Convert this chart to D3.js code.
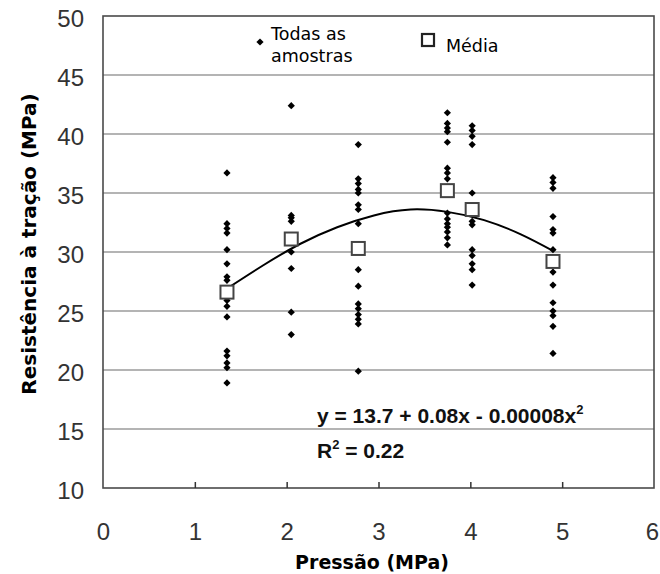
<!DOCTYPE html>
<html>
<head>
<meta charset="utf-8">
<script src="https://cdn.jsdelivr.net/npm/d3@7"></script>
<style>
  body { margin: 0; background: #fff; }
</style>
</head>
<body>
<div class="canvas"></div>
<script>
// chart data
//---------------------------
const pressures = [1.35, 2.05, 2.78, 3.75, 4.02, 4.90];   // MPa, one column per pressure

const samples = [
    [36.7, 32.4, 32.0, 31.6, 30.2, 29.0, 27.9, 27.6, 25.9, 25.4, 24.5, 21.6, 21.2, 20.6, 20.2, 18.9],
    [42.4, 33.1, 32.9, 32.6, 30.8, 30.0, 28.6, 24.9, 23.0],
    [39.1, 36.2, 35.8, 35.3, 35.0, 34.0, 33.6, 32.4, 28.5, 27.1, 25.6, 25.2, 24.7, 24.3, 23.9, 19.9],
    [41.8, 40.9, 40.5, 40.2, 39.3, 37.1, 36.7, 36.2, 33.3, 32.8, 32.4, 32.1, 31.7, 31.2, 30.6],
    [40.7, 40.3, 39.8, 39.1, 35.0, 32.6, 32.3, 30.2, 29.7, 29.0, 28.5, 27.2],
    [36.3, 35.9, 35.4, 33.0, 31.9, 31.6, 30.2, 28.3, 27.2, 25.7, 25.0, 24.6, 23.7, 21.4]
];

const means = [26.6, 31.1, 30.3, 35.2, 33.6, 29.2];

// fitted trend line, read as points along the drawn curve
const trendX = [1.35, 1.75, 2.15, 2.55, 2.95, 3.35, 3.75, 4.15, 4.55, 4.90];
const trendY = [26.9, 28.9, 30.7, 32.1, 33.1, 33.6, 33.4, 32.7, 31.5, 30.1];

const xTicks = [0, 1, 2, 3, 4, 5, 6];
const yTicks = [10, 15, 20, 25, 30, 35, 40, 45, 50];
//---------------------------

const width = 660, height = 574;
const margin = { top: 16, right: 6, bottom: 86, left: 103 };
const graphWidth = width - margin.left - margin.right;
const graphHeight = height - margin.top - margin.bottom;

const sansFont = '"Liberation Sans", Arial, sans-serif';
const wideFont = '"DejaVu Sans", Verdana, sans-serif';

const svg = d3.select('.canvas').append('svg')
    .attr('width', width)
    .attr('height', height);

const graph = svg.append('g')
    .attr('transform', `translate(${margin.left}, ${margin.top})`);

const x = d3.scaleLinear().domain([0, 6]).range([0, graphWidth]);
const y = d3.scaleLinear().domain([10, 50]).range([graphHeight, 0]);

// horizontal gridlines
graph.append('g')
    .selectAll('line')
    .data(yTicks.filter(t => t > 10 && t < 50))
    .enter().append('line')
    .attr('x1', 0).attr('x2', graphWidth)
    .attr('y1', d => y(d)).attr('y2', d => y(d))
    .attr('stroke', '#b4b4b4')
    .attr('stroke-width', 2);

// frame
graph.append('rect')
    .attr('width', graphWidth)
    .attr('height', graphHeight)
    .attr('fill', 'none')
    .attr('stroke', '#4a4a4a')
    .attr('stroke-width', 1.6);

// x axis: small ticks pointing inward, labels well below
const xAxis = d3.axisBottom(x).tickValues(xTicks).tickFormat(d3.format('d'))
    .tickSizeInner(-6).tickSizeOuter(0).tickPadding(35);
const xAxisGroup = graph.append('g')
    .attr('transform', `translate(0, ${graphHeight})`)
    .call(xAxis);
xAxisGroup.select('.domain').remove();
xAxisGroup.selectAll('.tick line')
    .filter(d => d === 0 || d === 6).remove();
xAxisGroup.selectAll('.tick line').attr('stroke', '#333').attr('stroke-width', 1.5);
// last label sits at the very edge of the picture
xAxisGroup.selectAll('.tick text').filter(d => d === 6).attr('dx', -2);

const yAxis = d3.axisLeft(y).tickValues(yTicks).tickSize(0).tickPadding(19);
const yAxisGroup = graph.append('g').call(yAxis);
yAxisGroup.select('.domain').remove();
yAxisGroup.selectAll('.tick text').attr('dy', '0.45em');

svg.selectAll('.tick text')
    .attr('font-family', sansFont)
    .attr('font-size', 24)
    .attr('fill', '#333');

// trend curve
const line = d3.line()
    .x((d, i) => x(trendX[i]))
    .y(d => y(d))
    .curve(d3.curveNatural);

graph.append('path')
    .datum(trendY)
    .attr('d', line)
    .attr('fill', 'none')
    .attr('stroke', '#000')
    .attr('stroke-width', 2);

// all samples: small black diamonds
const diamond = d3.symbol(d3.symbolSquare, 26);
const points = [];
samples.forEach((col, i) => col.forEach(v => points.push({ p: pressures[i], v })));

graph.append('g')
    .selectAll('path')
    .data(points)
    .enter().append('path')
    .attr('d', diamond)
    .attr('transform', d => `translate(${x(d.p)}, ${y(d.v)}) rotate(45)`)
    .attr('fill', '#000');

// means: open squares
const sq = 13;
graph.append('g')
    .selectAll('rect')
    .data(means)
    .enter().append('rect')
    .attr('x', (d, i) => x(pressures[i]) - sq / 2)
    .attr('y', d => y(d) - sq / 2)
    .attr('width', sq)
    .attr('height', sq)
    .attr('fill', '#fff')
    .attr('stroke', '#444')
    .attr('stroke-width', 2);

// legend
const legend = svg.append('g')
    .attr('font-family', wideFont)
    .attr('font-size', 17.5);
legend.append('path')
    .attr('d', diamond)
    .attr('transform', 'translate(260, 42) rotate(45)')
    .attr('fill', '#000');
legend.append('text').attr('x', 271).attr('y', 40).text('Todas as');
legend.append('text').attr('x', 271).attr('y', 62).text('amostras');
legend.append('rect')
    .attr('x', 422).attr('y', 34).attr('width', 12).attr('height', 12)
    .attr('fill', '#fff').attr('stroke', '#222').attr('stroke-width', 2.2);
legend.append('text').attr('x', 446).attr('y', 52).text('Média');

// regression equation
const eq = svg.append('text')
    .attr('x', 317).attr('y', 423)
    .attr('font-family', sansFont)
    .attr('font-size', 21).attr('font-weight', 'bold').attr('fill', '#111');
eq.append('tspan').text('y = 13.7 + 0.08x - 0.00008x');
eq.append('tspan').attr('dy', -9).attr('font-size', 13).text('2');

const r2 = svg.append('text')
    .attr('x', 317).attr('y', 458)
    .attr('font-family', sansFont)
    .attr('font-size', 21).attr('font-weight', 'bold').attr('fill', '#111');
r2.append('tspan').text('R');
r2.append('tspan').attr('dy', -9).attr('font-size', 13).text('2');
r2.append('tspan').attr('dy', 9).text(' = 0.22');

// axis titles
svg.append('text')
    .attr('x', 372)
    .attr('y', 569)
    .attr('text-anchor', 'middle')
    .attr('font-family', wideFont)
    .attr('font-size', 19)
    .attr('font-weight', 'bold')
    .text('Pressão (MPa)');

svg.append('text')
    .attr('transform', `translate(36, 244) rotate(-90)`)
    .attr('text-anchor', 'middle')
    .attr('font-family', wideFont)
    .attr('font-size', 20)
    .attr('font-weight', 'bold')
    .text('Resistência à tração (MPa)');
</script>
</body>
</html>
